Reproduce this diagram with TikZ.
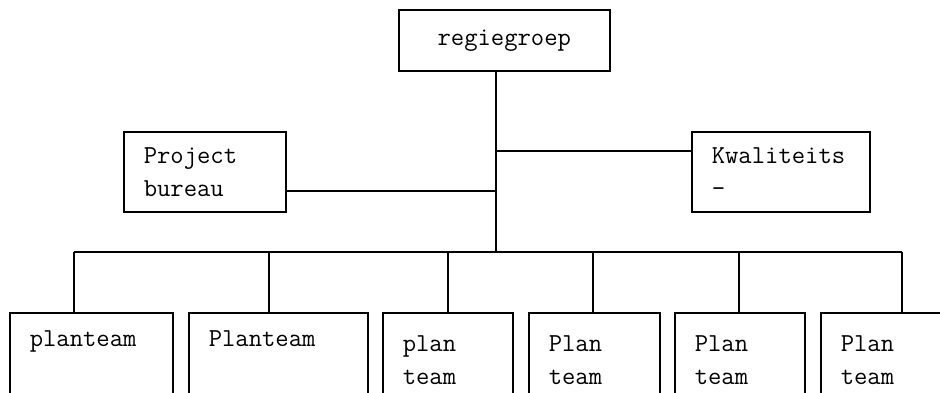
\documentclass[tikz,border=0pt]{standalone}
\begin{document}
\begin{tikzpicture}[x=1pt, y=-1pt, line width=1.6pt, line join=miter,
		font=\ttfamily\fontsize{25.9}{33}\selectfont,
		box/.style={draw, rectangle, anchor=north west, align=left, inner xsep=20pt, inner ysep=0pt},
		teambox/.style={box, minimum height=95pt}]
			\useasboundingbox (0,0) rectangle (940,392);
			\clip (0,0) rectangle (940,392);
			% top of the chart
			\node[draw, rectangle, anchor=north west, minimum width=211pt, minimum height=61pt] (regie) at (398,9) {regiegroep};
			\node[box, text width=122pt, minimum height=80pt] (bureau) at (123,131) {Project\\bureau};
			\node[box, text width=138pt, minimum height=80pt] (kwal) at (691,131) {Kwaliteits\\-};
			\coordinate (trunk) at (496,252);
			\coordinate (jbureau) at (496,191);
			\coordinate (jkwal) at (496,151);
			\draw (regie.south -| trunk) -- (trunk);
			\draw (bureau.east |- jbureau) -- (jbureau);
			\draw (jkwal) -- (kwal.west |- jkwal);
			% teams
			\foreach \x/\w/\d/\t [count=\i] in {9/163/74/{planteam\\\strut}, 188/179/269/{Planteam\\\strut}, 382/130/448/{plan\\team}, 528/131/593/{Plan\\team}, 674/130/739/{Plan\\team}, 820/130/902/{Plan\\team}} {
					\pgfmathsetmacro{\tw}{\w-40}
					\node[teambox, text width=\tw pt] (team\i) at (\x,312) {\t};
					\coordinate (drop\i) at (\d,252);
					\draw (drop\i) -- (drop\i |- team\i.north);
				}
			\draw (drop1) -- (drop6);
		\end{tikzpicture}
\end{document}
